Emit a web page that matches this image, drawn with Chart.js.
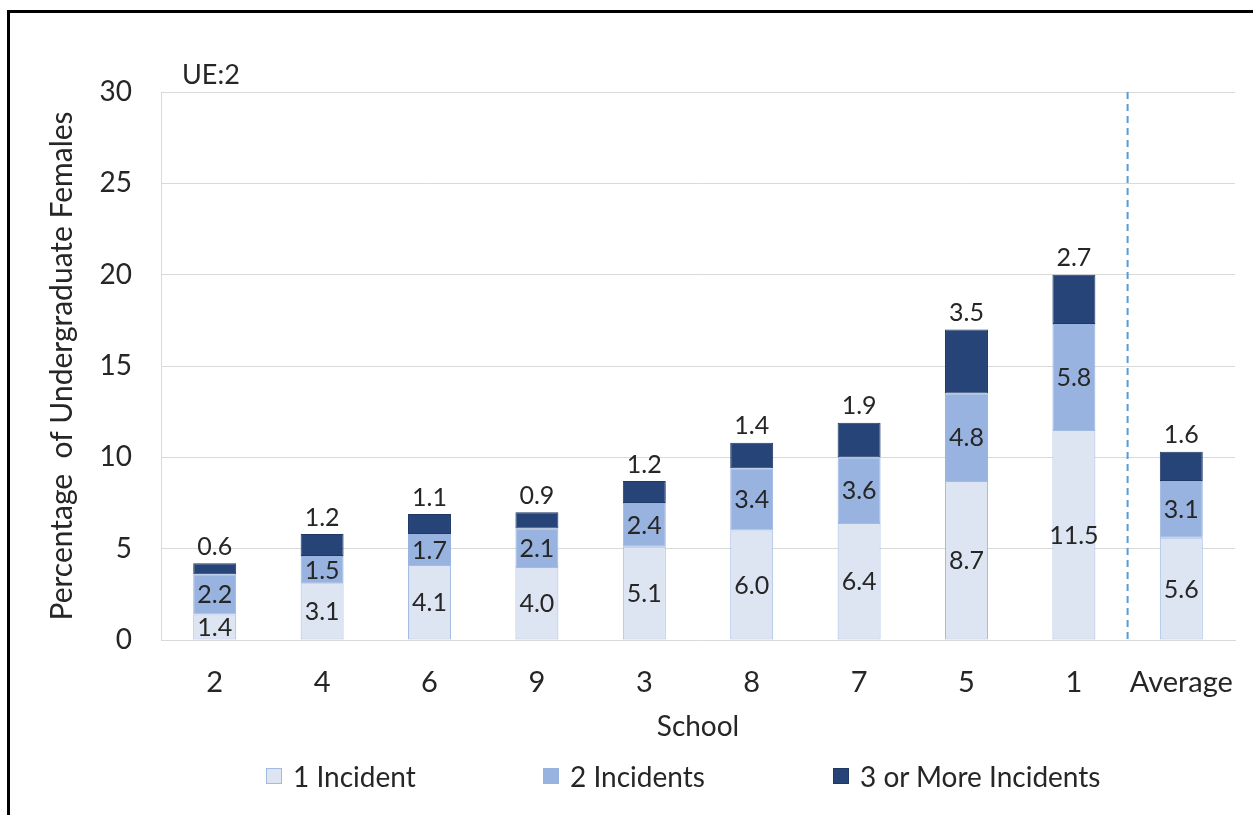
<!DOCTYPE html>
<html>
<head>
<meta charset="utf-8">
<script src="https://cdn.jsdelivr.net/npm/chart.js@4"></script>
<style>
  body { margin: 0; background: #fff; width: 1253px; height: 815px; overflow: hidden; position: relative; }
  #frame { position: absolute; left: 7px; top: 10px; width: 1300px; height: 900px; border-top: 3px solid #000; border-left: 3px solid #000; }
  #wrap { position: absolute; left: 0; top: 0; width: 1253px; height: 815px; }
  #legend-container { position: absolute; left: 266px; top: 759px; }
</style>
</head>
<body>
<div id="frame"></div>
<div id="wrap"><canvas id="chart"></canvas></div>
<div id="legend-container"></div>
<script>
const schools = ['2', '4', '6', '9', '3', '8', '7', '5', '1', 'Average']
const oneIncident = [1.4, 3.1, 4.1, 4.0, 5.1, 6.0, 6.4, 8.7, 11.5, 5.6]
const twoIncidents = [2.2, 1.5, 1.7, 2.1, 2.4, 3.4, 3.6, 4.8, 5.8, 3.1]
const threeOrMore = [0.6, 1.2, 1.1, 0.9, 1.2, 1.4, 1.9, 3.5, 2.7, 1.6]
const yTicks = [0, 5, 10, 15, 20, 25, 30]

const fontFamily = 'Lato, "Noto Sans", sans-serif'
const textColor = '#262626'
const gridColor = '#d9d9d9'

// data labels, the dashed separator and the "UE:2" note
const annotatePlugin = {
  id: 'annotate',
  afterDatasetsDraw(chart) {
    const ctx = chart.ctx
    const area = chart.chartArea
    const x = chart.scales.x
    ctx.save()
    ctx.font = '25px ' + fontFamily
    ctx.fillStyle = textColor
    ctx.textAlign = 'center'
    ctx.textBaseline = 'middle'
    chart.data.datasets.forEach((ds, di) => {
      const meta = chart.getDatasetMeta(di)
      meta.data.forEach((bar, i) => {
        const v = ds.data[i].toFixed(1)
        if (di < 2) {
          ctx.fillText(v, bar.x, (bar.y + bar.base) / 2 + 1)
        } else {
          ctx.textBaseline = 'bottom'
          ctx.fillText(v, bar.x, bar.y - 4)
          ctx.textBaseline = 'middle'
        }
      })
    })

    // separator before Average
    const sepX = (x.getPixelForValue(schools.length - 2) + x.getPixelForValue(schools.length - 1)) / 2
    ctx.strokeStyle = '#5b9bd5'
    ctx.lineWidth = 2
    ctx.setLineDash([7, 5])
    ctx.beginPath()
    ctx.moveTo(sepX, area.top)
    ctx.lineTo(sepX, area.bottom)
    ctx.stroke()
    ctx.setLineDash([])

    ctx.font = '27px ' + fontFamily
    ctx.textAlign = 'left'
    ctx.textBaseline = 'bottom'
    ctx.fillText('UE:2', area.left + 21, area.top - 3)
    ctx.restore()
  },
}

// design to HTML Legend
const htmlLegendPlugin = {
  id: 'htmlLegend',
  afterUpdate(chart, args, options) {
    const container = document.getElementById(options.containerID)
    let ul = container.querySelector('ul')
    if (!ul) {
      ul = document.createElement('ul')
      ul.style.display = 'flex'
      ul.style.flexDirection = 'row'
      ul.style.margin = 0
      ul.style.padding = 0
      ul.style.listStyle = 'none'
      container.appendChild(ul)
    }
    while (ul.firstChild) {
      ul.firstChild.remove()
    }
    const widths = [277, 290, 320]
    chart.data.datasets.forEach((ds, i) => {
      const li = document.createElement('li')
      li.style.display = 'flex'
      li.style.alignItems = 'center'
      li.style.width = widths[i] + 'px'

      const boxSpan = document.createElement('span')
      boxSpan.style.display = 'inline-block'
      boxSpan.style.boxSizing = 'border-box'
      boxSpan.style.width = '16px'
      boxSpan.style.height = '16px'
      boxSpan.style.background = ds.backgroundColor
      boxSpan.style.border = '1px solid ' + ds.borderColor
      boxSpan.style.marginRight = '11px'
      li.appendChild(boxSpan)

      const p = document.createElement('p')
      p.style.margin = 0
      p.style.padding = 0
      p.style.color = textColor
      p.style.fontFamily = fontFamily
      p.style.fontSize = '28px'
      p.style.whiteSpace = 'nowrap'
      p.appendChild(document.createTextNode(ds.label))
      li.appendChild(p)
      ul.appendChild(li)
    })
  },
}

function makeSet(label, values, fill, border) {
  return {
    label,
    data: values,
    backgroundColor: fill,
    borderColor: border,
    borderWidth: 1,
    borderSkipped: false,
    barPercentage: 0.4,
    categoryPercentage: 1,
  }
}

const config = {
  type: 'bar',
  data: {
    labels: schools,
    datasets: [
      makeSet('1 Incident', oneIncident, '#dde5f3', '#a3bbe3'),
      makeSet('2 Incidents', twoIncidents, '#98b3e0', '#98b3e0'),
      makeSet('3 or More Incidents', threeOrMore, '#264478', '#1f3864'),
    ],
  },
  options: {
    responsive: false,
    animation: false,
    layout: { padding: { top: 92, right: 18, bottom: 65, left: 0 } },
    scales: {
      x: {
        stacked: true,
        grid: { display: false, drawTicks: false },
        border: { display: true, color: gridColor, width: 1 },
        ticks: {
          color: textColor,
          padding: 25,
          autoSkip: false,
          minRotation: 0,
          maxRotation: 0,
          font: { family: fontFamily, size: 29 },
        },
        title: {
          display: true,
          text: 'School',
          color: textColor,
          font: { family: fontFamily, size: 28 },
          padding: { top: 0, bottom: 6 },
        },
        afterFit(scale) {
          scale.height = 110
          scale.paddingLeft = 0
          scale.paddingRight = 0
        },
      },
      y: {
        stacked: true,
        min: 0,
        max: 30,
        afterBuildTicks(scale) { scale.ticks = yTicks.map((v) => ({ value: v })) },
        grid: { color: gridColor, drawTicks: false },
        border: { display: true, color: gridColor },
        ticks: { color: textColor, padding: 29, font: { family: fontFamily, size: 28 } },
        title: {
          display: true,
          text: 'Percentage  of Undergraduate Females',
          color: textColor,
          font: { family: fontFamily, size: 30 },
          padding: { top: 44, bottom: 0 },
        },
        afterFit(scale) { scale.width = 161 },
      },
    },
    plugins: {
      legend: { display: false },
      tooltip: { enabled: false },
      htmlLegend: { containerID: 'legend-container' },
    },
  },
  plugins: [annotatePlugin, htmlLegendPlugin],
}

const canvas = document.getElementById('chart')
canvas.width = 1253
canvas.height = 815
new Chart(canvas.getContext('2d'), config)
</script>
</body>
</html>
